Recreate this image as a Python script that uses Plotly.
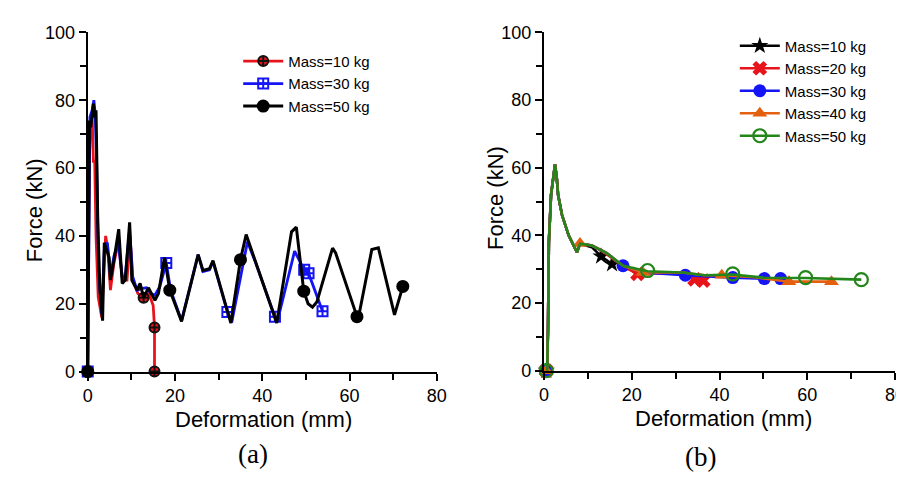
import plotly.graph_objects as go

# ---------------- Panel (a) data ----------------
a10_x = [0, 0.3, 0.6, 1.0, 1.3, 1.6, 1.9, 2.4, 3.2, 4.1, 4.6, 5.2, 6.0, 7.0, 8.0, 9.0, 9.7, 10.3, 11.5, 12.8, 14.0, 15.0, 15.3, 15.3]
a10_y = [0, 60, 72, 76, 62, 62, 40, 22, 16, 40, 36, 24, 32, 38, 27, 27, 40, 27, 23, 21.8, 23, 19.5, 13, 0]
a10_mx = [0, 12.8, 15.3, 15.3]
a10_my = [0, 21.8, 13, 0]

a30_x = [0, 0.3, 0.5, 1.0, 1.4, 1.7, 2.0, 2.5, 3.2, 3.8, 4.5, 5.2, 6.0, 7.0, 7.9, 8.6, 9.6, 10.3, 11.3, 12.5, 13.5, 14.5, 15.4, 16.5, 18.0, 19.0,
         21.5, 25.3, 26.4, 27.9, 28.7, 32.0, 33.0, 36.6, 38.5, 42.9, 43.5, 47.4, 48.0, 49.6, 50.6, 51.2, 53.8]
a30_y = [0, 60, 75, 77, 80, 76, 64, 30, 17, 36, 38, 28, 34, 38, 28, 28, 42, 28, 24, 24.5, 24.7, 23, 22.5, 25, 32, 24,
         15, 34.5, 29.5, 30, 32.5, 17.6, 14.5, 38.3, 32, 16.2, 15, 35.5, 34, 30, 29, 27, 17.8]
a30_mx = [0, 18.0, 32.0, 42.9, 49.6, 50.6, 53.8]
a30_my = [0, 32, 17.6, 16.2, 30, 29, 17.8]

a50_x = [0, 0.2, 0.4, 0.7, 1.0, 1.3, 1.6, 1.9, 2.3, 2.8, 3.4, 3.8, 4.3, 4.9, 5.2, 6.0, 7.1, 7.9, 8.6, 9.6, 10.1, 11.3, 12.0, 12.8, 13.9,
         15.4, 16.2, 17.6, 18.8, 21.5, 25.3, 26.4, 27.9, 28.7, 32.8, 35.0, 36.3, 38.4, 43.3, 46.7, 47.8, 49.5, 50.5, 51.5, 52.5,
         56.1, 56.8, 61.7, 62.2, 65.1, 66.6, 70.3, 72.2]
a50_y = [0, 45, 74, 72, 76, 79, 75, 77, 44, 24, 15, 38, 36, 33.6, 27, 32.7, 42, 26, 27, 44, 27, 24, 26, 21.8, 24.7,
         21, 23, 33.6, 24, 14.8, 34.5, 29.8, 30.3, 32.7, 14.3, 33, 40.4, 32.7, 14.3, 41.2, 42.6, 23.7, 20, 19, 20.5,
         36.4, 35, 16.2, 17, 36, 36.5, 16.7, 25.1]
a50_mx = [0, 18.8, 35.0, 49.5, 61.7, 72.2]
a50_my = [0, 24, 33, 23.7, 16.2, 25.1]

# ---------------- Panel (b) data ----------------
b10_x = [0.5, 0.7, 0.9, 1.1, 1.6, 2.2, 2.5, 2.9, 3.2, 4.1, 5.6, 7.5, 8.2, 10.9, 13.0, 15.5, 16.0]
b10_y = [0, 0, 12, 38, 52, 59, 61, 57, 52, 46, 40, 35, 37.5, 36.5, 33.8, 31.5, 31.3]
b10_mx = [0.5, 13.0, 15.5]
b10_my = [0, 33.8, 31.5]

b20_x = [0.5, 0.7, 0.9, 1.1, 1.6, 2.2, 2.5, 2.9, 3.2, 4.1, 5.6, 7.5, 8.2, 10.9, 14.2, 18.0, 21.3, 25.0, 31.0, 34.3, 36.3]
b20_y = [0, 0, 12, 38, 52, 59, 61, 57, 52, 46, 40, 35, 37.5, 37, 34.5, 30.8, 28.6, 28.8, 28.6, 27.0, 26.6]
b20_mx = [0.5, 21.3, 34.3, 36.3]
b20_my = [0, 28.6, 27.0, 26.6]

b30_x = [0.5, 0.7, 0.9, 1.1, 1.6, 2.2, 2.5, 2.9, 3.2, 4.1, 5.6, 7.5, 8.2, 10.9, 14.2, 18.0, 22.5, 32.2, 36.6, 43.0, 50.2, 53.9]
b30_y = [0, 0, 12, 38, 52, 59, 61, 57, 52, 46, 40, 35, 37.5, 37, 34.8, 31, 29, 28.2, 27.9, 27.5, 27.2, 27.2]
b30_mx = [0.5, 18.0, 32.2, 43.0, 50.2, 53.9]
b30_my = [0, 31, 28.2, 27.5, 27.2, 27.2]

b40_x = [0.5, 0.7, 0.9, 1.1, 1.6, 2.2, 2.5, 2.9, 3.2, 4.1, 5.6, 7.5, 8.2, 10.9, 14.2, 18.0, 22.5, 31.5, 36.6, 40.5, 48.0, 55.8, 65.5]
b40_y = [0, 0, 12, 38, 52, 59, 61, 57, 52, 46, 40, 35, 37.6, 37, 34.8, 31, 29, 29, 28.2, 28.2, 27.6, 26.3, 26.3]
b40_mx = [0.5, 8.2, 22.5, 40.5, 55.8, 65.5]
b40_my = [0, 37.6, 29, 28.2, 26.3, 26.3]

b50_x = [0.5, 0.7, 0.9, 1.1, 1.6, 2.2, 2.5, 2.9, 3.2, 4.1, 5.6, 7.5, 8.2, 10.9, 14.2, 18.0, 23.6, 31.5, 36.6, 43.0, 47.0, 50.0, 59.6, 72.3]
b50_y = [0, 0, 12, 38, 52, 59, 61, 57, 52, 46, 40, 35, 37.5, 37, 34.8, 31, 29.4, 29, 28.2, 28.4, 27.8, 27.5, 27.4, 26.9]
b50_mx = [0.5, 23.6, 43.0, 59.6, 72.3]
b50_my = [0, 29.6, 28.6, 27.5, 26.9]

LEG_NAMES_A = ["Mass=10 kg", "Mass=30 kg", "Mass=50 kg"]
LEG_NAMES_B = ["Mass=10 kg", "Mass=20 kg", "Mass=30 kg", "Mass=40 kg", "Mass=50 kg"]

fig = go.Figure()


def add_series(x, y, mx, my, name, color, marker, xa, ya, legend, lw):
    fig.add_trace(go.Scatter(x=x, y=y, mode="lines", line=dict(color=color, width=lw),
                             xaxis=xa, yaxis=ya, showlegend=False, cliponaxis=False,
                             hoverinfo="skip"))
    fig.add_trace(go.Scatter(x=mx, y=my, mode="markers", marker=marker,
                             xaxis=xa, yaxis=ya, showlegend=False, cliponaxis=False))
    fig.add_trace(go.Scatter(x=[None], y=[None], mode="lines+markers", name=name,
                             line=dict(color=color, width=lw), marker=marker,
                             xaxis=xa, yaxis=ya, legend=legend))


RED = "#e8141c"
BLUE = "#1414f5"
BLACK = "#000000"
ORANGE = "#e2600f"
GREEN = "#23861b"

add_series(a10_x, a10_y, a10_mx, a10_my, LEG_NAMES_A[0], RED,
           dict(symbol="circle-cross", size=10, color=RED, line=dict(color="#111", width=2)),
           "x", "y", "legend", 2.8)
add_series(a30_x, a30_y, a30_mx, a30_my, LEG_NAMES_A[1], BLUE,
           dict(symbol="square-cross-open", size=10, color=BLUE, line=dict(color=BLUE, width=2)),
           "x", "y", "legend", 2.8)
add_series(a50_x, a50_y, a50_mx, a50_my, LEG_NAMES_A[2], BLACK,
           dict(symbol="circle", size=13, color=BLACK),
           "x", "y", "legend", 3.0)

add_series(b10_x, b10_y, b10_mx, b10_my, LEG_NAMES_B[0], BLACK,
           dict(symbol="star", size=13, color=BLACK),
           "x2", "y2", "legend2", 2.6)
add_series(b20_x, b20_y, b20_mx, b20_my, LEG_NAMES_B[1], RED,
           dict(symbol="x", size=13, color=RED),
           "x2", "y2", "legend2", 2.6)
add_series(b30_x, b30_y, b30_mx, b30_my, LEG_NAMES_B[2], BLUE,
           dict(symbol="circle", size=13, color=BLUE),
           "x2", "y2", "legend2", 2.6)
add_series(b40_x, b40_y, b40_mx, b40_my, LEG_NAMES_B[3], ORANGE,
           dict(symbol="triangle-up", size=13, color=ORANGE),
           "x2", "y2", "legend2", 2.6)
add_series(b50_x, b50_y, b50_mx, b50_my, LEG_NAMES_B[4], GREEN,
           dict(symbol="circle-open", size=13, color=GREEN, line=dict(width=2.2)),
           "x2", "y2", "legend2", 2.6)

TICKFONT = dict(family="Arial, Liberation Sans, sans-serif", size=18, color="black")


def xax(domain, anchor):
    return dict(domain=domain, anchor=anchor, range=[0, 80], dtick=20, tick0=0,
                showline=True, linecolor="black", linewidth=2.4, ticks="outside",
                ticklen=7, tickwidth=2, tickcolor="black", showgrid=False, zeroline=False,
                tickfont=TICKFONT,
                minor=dict(dtick=10, ticks="outside", ticklen=6, tickwidth=2, tickcolor="black"))


def yax(domain, anchor):
    return dict(domain=domain, anchor=anchor, range=[0, 100], dtick=20, tick0=0,
                showline=True, linecolor="black", linewidth=2.4, ticks="outside",
                ticklen=7, tickwidth=2, tickcolor="black", showgrid=False, zeroline=False,
                tickfont=TICKFONT,
                minor=dict(dtick=10, ticks="outside", ticklen=6, tickwidth=2, tickcolor="black"))


W, H = 904, 479
LEGFONT = dict(family="Arial, Liberation Sans, sans-serif", size=15, color="black")
TITLEFONT = dict(family="Arial, Liberation Sans, sans-serif", size=22, color="black")
SERIF = dict(family="Times New Roman, Liberation Serif, serif", size=27, color="black")

fig.update_layout(
    width=W, height=H, margin=dict(l=0, r=0, t=0, b=0),
    paper_bgcolor="white", plot_bgcolor="white",
    xaxis=xax([76 / W, 431 / W], "y"),
    yaxis=yax([1 - 369 / H, 1 - 15 / H], "x"),
    xaxis2=xax([540 / W, 897 / W], "y2"),
    yaxis2=yax([1 - 368 / H, 1 - 15 / H], "x2"),
    legend=dict(x=229 / W, y=1 - 28 / H, xanchor="left", yanchor="top", font=LEGFONT,
                bgcolor="rgba(0,0,0,0)", tracegroupgap=0, itemwidth=40),
    legend2=dict(x=734 / W, y=1 - 12 / H, xanchor="left", yanchor="top", font=LEGFONT,
                 bgcolor="rgba(0,0,0,0)", tracegroupgap=0, itemwidth=40),
    annotations=[
        dict(text="Deformation (mm)", x=255 / W, y=1 - 419 / H, xref="paper", yref="paper",
             showarrow=False, font=TITLEFONT, xanchor="center", yanchor="middle"),
        dict(text="Deformation (mm)", x=722 / W, y=1 - 418 / H, xref="paper", yref="paper",
             showarrow=False, font=TITLEFONT, xanchor="center", yanchor="middle"),
        dict(text="Force (kN)", x=22 / W, y=1 - 201 / H, xref="paper", yref="paper",
             showarrow=False, font=TITLEFONT, textangle=-90, xanchor="center", yanchor="middle"),
        dict(text="Force (kN)", x=490 / W, y=1 - 188 / H, xref="paper", yref="paper",
             showarrow=False, font=TITLEFONT, textangle=-90, xanchor="center", yanchor="middle"),
        dict(text="(a)", x=244 / W, y=1 - 455 / H, xref="paper", yref="paper",
             showarrow=False, font=SERIF, xanchor="center", yanchor="middle"),
        dict(text="(b)", x=699 / W, y=1 - 458 / H, xref="paper", yref="paper",
             showarrow=False, font=SERIF, xanchor="center", yanchor="middle"),
    ],
)

fig.write_html("out.html")
